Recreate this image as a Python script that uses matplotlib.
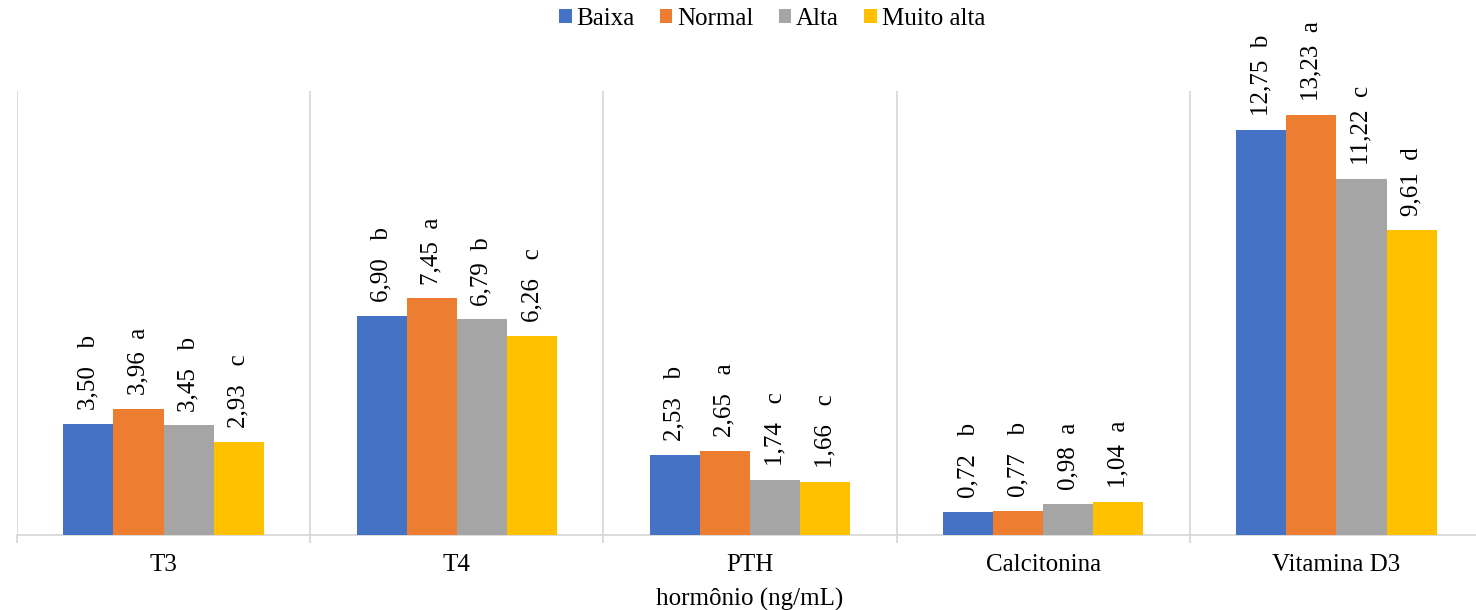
import matplotlib
matplotlib.use("Agg")
import matplotlib.pyplot as plt
import numpy as np

plt.rcParams["font.family"] = ["Liberation Serif", "DejaVu Serif"]

categorias = ["T3", "T4", "PTH", "Calcitonina", "Vitamina D3"]
series = ["Baixa", "Normal", "Alta", "Muito alta"]
cores = ["#4472C4", "#ED7D31", "#A5A5A5", "#FFC000"]

# valores médios (ng/mL) por faixa, uma lista por série
baixa = [3.50, 6.90, 2.53, 0.72, 12.75]
normal = [3.96, 7.45, 2.65, 0.77, 13.23]
alta = [3.45, 6.79, 1.74, 0.98, 11.22]
muito_alta = [2.93, 6.26, 1.66, 1.04, 9.61]

# letras do teste de médias
letras_baixa = ["   b", "   b", "   b", "   b", "  b"]
letras_normal = ["  a", "  a", "   a", "   b", "  a"]
letras_alta = ["   b", "  b", "   c", "  a", "  c"]
letras_muito_alta = ["   c", "   c", "   c", "  a", "  d"]

valores = [baixa, normal, alta, muito_alta]
letras = [letras_baixa, letras_normal, letras_alta, letras_muito_alta]

FS = 18

fig = plt.figure(figsize=(14.76, 6.10), dpi=100)
ax = fig.add_axes([17 / 1476, 1 - 535 / 610, 1466 / 1476, (535 - 90.5) / 610])

x = np.arange(len(categorias))
largura = 0.171
for i, (nome, vals, lets, cor) in enumerate(zip(series, valores, letras, cores)):
    pos = x + (i - 1.5) * largura
    ax.bar(pos, vals, largura, color=cor, label=nome, zorder=3)
    for xp, v, l in zip(pos, vals, lets):
        txt = f"{v:.2f}".replace(".", ",") + l
        ax.annotate(txt, (xp, v), xytext=(0, 10), textcoords="offset points",
                    rotation=90, ha="center", va="bottom", fontsize=FS)

ax.set_xlim(-0.5, len(categorias) - 0.5)
ax.set_ylim(0, 14)
ax.set_yticks([])
ax.set_xticks(x)
ax.set_xticklabels(categorias, fontsize=FS)
ax.set_xticks(np.arange(-0.5, len(categorias)), minor=True)
ax.tick_params(axis="x", which="major", length=0, pad=14)
ax.tick_params(axis="x", which="minor", length=6, color="#D9D9D9", width=1.3)
ax.grid(axis="x", which="minor", color="#D9D9D9", linewidth=1.3, zorder=0)
for lado in ["top", "right", "left"]:
    ax.spines[lado].set_visible(False)
ax.spines["bottom"].set_color("#D9D9D9")
ax.spines["bottom"].set_linewidth(1.3)
ax.set_xlabel("hormônio (ng/mL)", fontsize=FS, labelpad=8)

fig.legend(loc="center", bbox_to_anchor=(772 / 1476, 1 - 19 / 610), ncol=4,
           frameon=False, fontsize=FS, handlelength=0.5, handleheight=0.5,
           handletextpad=0.2, columnspacing=1.0)

plt.savefig("out.png", dpi=100)
plt.close()
